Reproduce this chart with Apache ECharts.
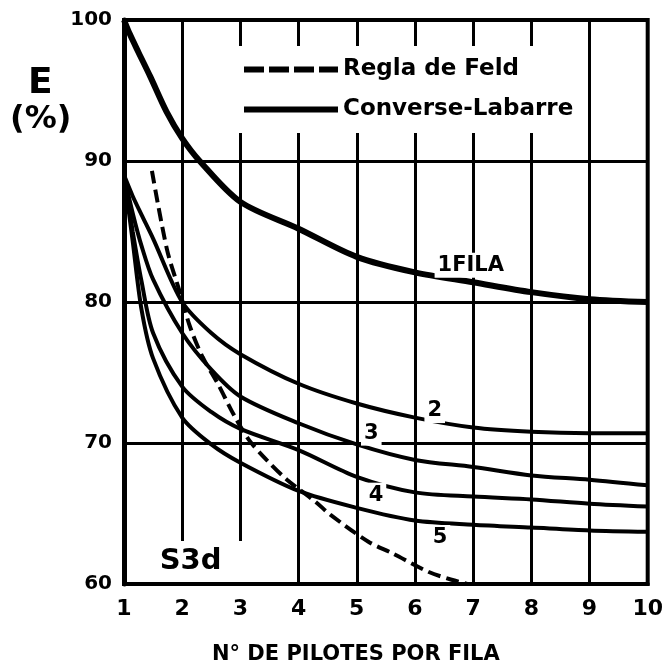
<!DOCTYPE html>
<html>
<head>
<meta charset="utf-8">
<script src="https://cdn.jsdelivr.net/npm/echarts@6/dist/echarts.min.js"></script>
<style>
  html, body { margin: 0; padding: 0; background: #fff; }
  #chart { width: 666px; height: 672px; }
</style>
</head>
<body>
<div id="chart"></div>
<script>
// eficiencia E (%) segun n de pilotes por fila
const xFila1 = [1, 1.1, 1.25, 1.45, 1.73, 2, 2.3, 3, 4, 5, 6, 7, 8, 9, 10]
const fila1 = [100, 99, 97.7, 96, 93.5, 91.6, 90, 87.1, 85.2, 83.2, 82.1, 81.4, 80.7, 80.2, 80.0]

const xFilas = [1, 1.15, 1.3, 1.5, 2, 2.5, 3, 4, 5, 6, 7, 8, 9, 10]
const fila2 = [89, 87.5, 86.2, 84.5, 80.0, 77.8, 76.3, 74.2, 72.8, 71.8, 71.1, 70.8, 70.7, 70.7]
const fila3 = [89, 86.3, 84.0, 81.6, 77.8, 75.2, 73.3, 71.4, 69.9, 68.8, 68.3, 67.7, 67.4, 67.0]
const fila4 = [89, 85.0, 81.5, 77.8, 74.0, 72.2, 71.0, 69.5, 67.6, 66.5, 66.2, 66.0, 65.7, 65.5]
const fila5 = [89, 84.3, 79.5, 76.0, 71.8, 69.9, 68.6, 66.6, 65.4, 64.5, 64.2, 64.0, 63.8, 63.7]

// regla de Feld (trazo discontinuo)
const xFeld = [1.48, 1.74, 1.96, 2.13, 2.35, 2.6, 2.9, 3.15, 3.45, 3.8, 4.3, 4.55, 5.2, 5.6, 6.24, 6.63, 6.9]
const feld = [89.3, 83.7, 80.7, 78.3, 76.1, 74.3, 71.9, 70.2, 68.8, 67.4, 65.8, 64.9, 63.0, 62.2, 60.85, 60.3, 60.0]

// rotulos de las curvas
const rotulos = ['1FILA', '2', '3', '4', '5', 'S3d']
const rotX = [6.96, 6.34, 5.25, 5.33, 6.43, 2.35]
const rotY = [82.6, 72.3, 70.7, 66.3, 63.3, 61.6]

const xTicks = [1, 2, 3, 4, 5, 6, 7, 8, 9, 10]
const yTicks = [60, 70, 80, 90, 100]

const pares = (xs, ys) => xs.map((x, i) => [x, ys[i]])

const font = 'DejaVu Sans'
const myChart = echarts.init(document.getElementById('chart'))

const curva = (data, width) => ({
  name: 'Converse-Labarre',
  type: 'line',
  data: data,
  symbol: 'none',
  smooth: 0.3,
  color: '#000',
  lineStyle: { color: '#000', width: width },
  z: 3
})

// iconos de la leyenda: trazo discontinuo y continuo
const iconoFeld = 'path://M0 0H20V6H0Z M25 0H45V6H25Z M50 0H70V6H50Z M75 0H94V6H75Z'
const iconoCL = 'path://M0 0H94V6H0Z'

myChart.setOption({
  animation: false,
  backgroundColor: '#fff',
  grid: {
    left: 124,
    right: 14,
    top: 20,
    bottom: 88,
    show: true,
    borderColor: '#000',
    borderWidth: 4,
    z: 1
  },
  legend: {
    orient: 'vertical',
    left: 238,
    top: 46,
    padding: [12, 8, 12, 6],
    itemGap: 17,
    itemWidth: 94,
    itemHeight: 6,
    backgroundColor: '#fff',
    textStyle: { fontFamily: font, fontWeight: 'bold', fontSize: 23, color: '#000' },
    data: [
      { name: 'Regla de Feld', icon: iconoFeld, itemStyle: { color: '#000' } },
      { name: 'Converse-Labarre', icon: iconoCL, itemStyle: { color: '#000' } }
    ]
  },
  xAxis: {
    type: 'value',
    min: 1,
    max: 10,
    interval: 1,
    name: 'N° DE PILOTES POR FILA',
    nameLocation: 'middle',
    nameGap: 60,
    nameTextStyle: { fontFamily: font, fontWeight: 'bold', fontSize: 21, color: '#000', padding: [0, 60, 0, 0] },
    axisLine: { lineStyle: { color: '#000', width: 4 } },
    axisTick: { show: false },
    axisLabel: {
      margin: 14,
      fontFamily: font, fontWeight: 'bold', fontSize: 22, color: '#000',
      formatter: v => (xTicks.includes(v) ? String(v) : '')
    },
    splitLine: { lineStyle: { color: '#000', width: 3 } }
  },
  yAxis: {
    type: 'value',
    min: 60,
    max: 100,
    interval: 10,
    axisLine: { show: true, lineStyle: { color: '#000', width: 5 } },
    axisTick: { show: false },
    axisLabel: {
      margin: 12,
      fontFamily: font, fontWeight: 'bold', fontSize: 20, color: '#000',
      formatter: v => (yTicks.includes(v) ? String(v) : '')
    },
    splitLine: {
      lineStyle: { color: '#000', width: 3 }
    }
  },
  graphic: [
    { type: 'text', left: 28, top: 66, style: { text: 'E', font: 'bold 36px "DejaVu Sans"', fill: '#000' } },
    { type: 'text', left: 10, top: 104, style: { text: '(%)', font: 'bold 32px "DejaVu Sans"', fill: '#000' } }
  ],
  series: [
    {
      name: 'Regla de Feld',
      type: 'line',
      data: pares(xFeld, feld),
      symbol: 'none',
      smooth: 0.3,
      color: '#000',
      lineStyle: { color: '#000', width: 4, type: [13, 6] },
      z: 3
    },
    curva(pares(xFila1, fila1), 6),
    curva(pares(xFilas, fila2), 4),
    curva(pares(xFilas, fila3), 4),
    curva(pares(xFilas, fila4), 4),
    curva(pares(xFilas, fila5), 4),
    {
      name: 'rotulos',
      type: 'scatter',
      symbolSize: 0,
      itemStyle: { opacity: 1 },
      data: rotulos.map((t, i) => {
        const item = { name: t, value: [rotX[i], rotY[i]] }
        if (t === 'S3d') {
          item.label = { fontSize: 29, fontWeight: 'bold', padding: [12, 26, 0, 2] }
        }
        return item
      }),
      label: {
        show: true,
        position: 'inside',
        formatter: p => p.name,
        fontFamily: font,
        fontWeight: 'bold',
        fontSize: 21,
        color: '#000',
        textBorderWidth: 0,
        backgroundColor: '#fff',
        padding: [2, 3]
      },
      z: 5
    }
  ]
})
</script>
</body>
</html>
